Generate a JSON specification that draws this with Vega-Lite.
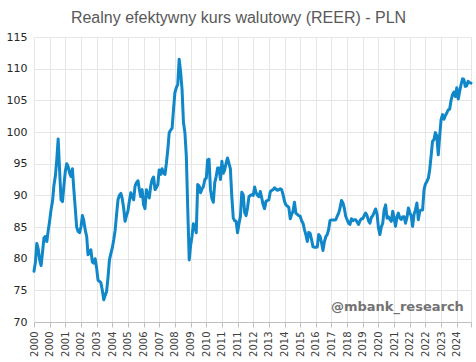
{
  "$schema": "https://vega.github.io/schema/vega-lite/v6.json",
  "width": 437,
  "height": 285,
  "autosize": {"type": "none"},
  "padding": {"left": 34, "top": 37, "right": 5, "bottom": 40},
  "background": "#ffffff",
  "config": {"view": {"stroke": null}},
  "title": {
    "text": "Realny efektywny kurs walutowy (REER) - PLN",
    "font": "Liberation Sans",
    "fontSize": 16,
    "fontWeight": "normal",
    "color": "#595959",
    "anchor": "middle",
    "dx": -14,
    "dy": 13,
    "baseline": "alphabetic",
    "offset": 5
  },
  "datasets": {
    "reer": [
      {"d":"2000-01","v":78.0},{"d":"2000-02","v":79.5},{"d":"2000-03","v":82.4},{"d":"2000-04","v":81.5},{"d":"2000-05","v":79.8},{"d":"2000-06","v":78.9},{"d":"2000-07","v":81.0},{"d":"2000-08","v":83.3},{"d":"2000-09","v":83.5},{"d":"2000-10","v":82.7},{"d":"2000-11","v":84.5},{"d":"2000-12","v":86.0},
      {"d":"2001-01","v":87.8},{"d":"2001-02","v":89.1},{"d":"2001-03","v":91.5},{"d":"2001-04","v":93.0},{"d":"2001-05","v":95.5},{"d":"2001-06","v":98.9},{"d":"2001-07","v":94.0},{"d":"2001-08","v":89.3},{"d":"2001-09","v":89.0},{"d":"2001-10","v":91.5},{"d":"2001-11","v":93.8},{"d":"2001-12","v":95.0},
      {"d":"2002-01","v":94.5},{"d":"2002-02","v":93.5},{"d":"2002-03","v":93.0},{"d":"2002-04","v":94.2},{"d":"2002-05","v":91.0},{"d":"2002-06","v":88.0},{"d":"2002-07","v":85.0},{"d":"2002-08","v":84.3},{"d":"2002-09","v":84.1},{"d":"2002-10","v":85.0},{"d":"2002-11","v":86.8},{"d":"2002-12","v":86.0},
      {"d":"2003-01","v":84.5},{"d":"2003-02","v":83.5},{"d":"2003-03","v":80.6},{"d":"2003-04","v":81.0},{"d":"2003-05","v":81.4},{"d":"2003-06","v":79.5},{"d":"2003-07","v":79.3},{"d":"2003-08","v":80.0},{"d":"2003-09","v":78.5},{"d":"2003-10","v":76.6},{"d":"2003-11","v":76.4},{"d":"2003-12","v":76.2},
      {"d":"2004-01","v":75.0},{"d":"2004-02","v":73.5},{"d":"2004-03","v":74.2},{"d":"2004-04","v":74.8},{"d":"2004-05","v":77.0},{"d":"2004-06","v":79.8},{"d":"2004-07","v":80.8},{"d":"2004-08","v":81.7},{"d":"2004-09","v":83.0},{"d":"2004-10","v":84.5},{"d":"2004-11","v":87.0},{"d":"2004-12","v":89.3},
      {"d":"2005-01","v":90.0},{"d":"2005-02","v":90.3},{"d":"2005-03","v":89.5},{"d":"2005-04","v":88.0},{"d":"2005-05","v":85.9},{"d":"2005-06","v":86.8},{"d":"2005-07","v":87.5},{"d":"2005-08","v":89.1},{"d":"2005-09","v":90.4},{"d":"2005-10","v":89.8},{"d":"2005-11","v":89.3},{"d":"2005-12","v":91.5},
      {"d":"2006-01","v":92.0},{"d":"2006-02","v":92.3},{"d":"2006-03","v":91.0},{"d":"2006-04","v":89.8},{"d":"2006-05","v":90.9},{"d":"2006-06","v":88.5},{"d":"2006-07","v":87.9},{"d":"2006-08","v":90.9},{"d":"2006-09","v":90.0},{"d":"2006-10","v":89.6},{"d":"2006-11","v":91.5},{"d":"2006-12","v":92.5},
      {"d":"2007-01","v":92.9},{"d":"2007-02","v":90.9},{"d":"2007-03","v":91.2},{"d":"2007-04","v":91.7},{"d":"2007-05","v":94.0},{"d":"2007-06","v":93.3},{"d":"2007-07","v":94.2},{"d":"2007-08","v":93.5},{"d":"2007-09","v":93.3},{"d":"2007-10","v":95.0},{"d":"2007-11","v":97.2},{"d":"2007-12","v":99.9},
      {"d":"2008-01","v":100.3},{"d":"2008-02","v":100.6},{"d":"2008-03","v":103.5},{"d":"2008-04","v":106.2},{"d":"2008-05","v":107.0},{"d":"2008-06","v":107.5},{"d":"2008-07","v":111.5},{"d":"2008-08","v":109.5},{"d":"2008-09","v":106.7},{"d":"2008-10","v":101.5},{"d":"2008-11","v":99.9},{"d":"2008-12","v":96.2},
      {"d":"2009-01","v":87.7},{"d":"2009-02","v":79.8},{"d":"2009-03","v":82.0},{"d":"2009-04","v":83.5},{"d":"2009-05","v":85.5},{"d":"2009-06","v":85.0},{"d":"2009-07","v":84.1},{"d":"2009-08","v":91.7},{"d":"2009-09","v":91.5},{"d":"2009-10","v":90.4},{"d":"2009-11","v":91.0},{"d":"2009-12","v":91.4},
      {"d":"2010-01","v":92.5},{"d":"2010-02","v":92.7},{"d":"2010-03","v":95.6},{"d":"2010-04","v":95.7},{"d":"2010-05","v":90.9},{"d":"2010-06","v":89.5},{"d":"2010-07","v":88.9},{"d":"2010-08","v":92.0},{"d":"2010-09","v":93.0},{"d":"2010-10","v":94.3},{"d":"2010-11","v":94.3},{"d":"2010-12","v":92.5},
      {"d":"2011-01","v":95.4},{"d":"2011-02","v":93.5},{"d":"2011-03","v":94.0},{"d":"2011-04","v":95.1},{"d":"2011-05","v":95.9},{"d":"2011-06","v":95.0},{"d":"2011-07","v":94.2},{"d":"2011-08","v":89.8},{"d":"2011-09","v":86.4},{"d":"2011-10","v":86.0},{"d":"2011-11","v":85.9},{"d":"2011-12","v":84.1},
      {"d":"2012-01","v":85.5},{"d":"2012-02","v":86.7},{"d":"2012-03","v":90.5},{"d":"2012-04","v":90.1},{"d":"2012-05","v":87.3},{"d":"2012-06","v":86.8},{"d":"2012-07","v":88.0},{"d":"2012-08","v":89.8},{"d":"2012-09","v":90.0},{"d":"2012-10","v":90.1},{"d":"2012-11","v":90.0},{"d":"2012-12","v":91.3},
      {"d":"2013-01","v":90.4},{"d":"2013-02","v":90.0},{"d":"2013-03","v":89.8},{"d":"2013-04","v":90.6},{"d":"2013-05","v":89.6},{"d":"2013-06","v":88.5},{"d":"2013-07","v":87.9},{"d":"2013-08","v":89.05},{"d":"2013-09","v":89.2},{"d":"2013-10","v":89.3},{"d":"2013-11","v":90.6},{"d":"2013-12","v":90.8},
      {"d":"2014-01","v":90.9},{"d":"2014-02","v":91.2},{"d":"2014-03","v":91.0},{"d":"2014-04","v":90.8},{"d":"2014-05","v":90.9},{"d":"2014-06","v":91.05},{"d":"2014-07","v":90.9},{"d":"2014-08","v":90.1},{"d":"2014-09","v":89.05},{"d":"2014-10","v":88.5},{"d":"2014-11","v":88.3},{"d":"2014-12","v":88.1},
      {"d":"2015-01","v":86.3},{"d":"2015-02","v":87.0},{"d":"2015-03","v":87.5},{"d":"2015-04","v":88.9},{"d":"2015-05","v":87.2},{"d":"2015-06","v":87.0},{"d":"2015-07","v":86.8},{"d":"2015-08","v":86.7},{"d":"2015-09","v":86.0},{"d":"2015-10","v":85.6},{"d":"2015-11","v":84.6},{"d":"2015-12","v":83.8},
      {"d":"2016-01","v":82.7},{"d":"2016-02","v":84.15},{"d":"2016-03","v":84.0},{"d":"2016-04","v":83.0},{"d":"2016-05","v":81.9},{"d":"2016-06","v":81.8},{"d":"2016-07","v":81.8},{"d":"2016-08","v":81.85},{"d":"2016-09","v":83.8},{"d":"2016-10","v":83.5},{"d":"2016-11","v":82.5},{"d":"2016-12","v":81.3},
      {"d":"2017-01","v":82.7},{"d":"2017-02","v":83.5},{"d":"2017-03","v":83.8},{"d":"2017-04","v":84.6},{"d":"2017-05","v":86.05},{"d":"2017-06","v":86.1},{"d":"2017-07","v":86.1},{"d":"2017-08","v":86.1},{"d":"2017-09","v":86.15},{"d":"2017-10","v":86.7},{"d":"2017-11","v":87.2},{"d":"2017-12","v":88.0},
      {"d":"2018-01","v":89.2},{"d":"2018-02","v":88.8},{"d":"2018-03","v":88.0},{"d":"2018-04","v":86.7},{"d":"2018-05","v":86.15},{"d":"2018-06","v":85.6},{"d":"2018-07","v":85.4},{"d":"2018-08","v":86.3},{"d":"2018-09","v":86.0},{"d":"2018-10","v":86.15},{"d":"2018-11","v":86.15},{"d":"2018-12","v":85.8},
      {"d":"2019-01","v":85.4},{"d":"2019-02","v":86.0},{"d":"2019-03","v":86.3},{"d":"2019-04","v":86.3},{"d":"2019-05","v":86.8},{"d":"2019-06","v":87.2},{"d":"2019-07","v":86.8},{"d":"2019-08","v":86.0},{"d":"2019-09","v":85.6},{"d":"2019-10","v":86.5},{"d":"2019-11","v":86.8},{"d":"2019-12","v":87.3},
      {"d":"2020-01","v":87.85},{"d":"2020-02","v":87.0},{"d":"2020-03","v":84.85},{"d":"2020-04","v":83.8},{"d":"2020-05","v":85.0},{"d":"2020-06","v":85.6},{"d":"2020-07","v":87.7},{"d":"2020-08","v":88.5},{"d":"2020-09","v":86.4},{"d":"2020-10","v":86.6},{"d":"2020-11","v":86.2},{"d":"2020-12","v":85.9},
      {"d":"2021-01","v":87.5},{"d":"2021-02","v":86.3},{"d":"2021-03","v":85.1},{"d":"2021-04","v":86.6},{"d":"2021-05","v":87.2},{"d":"2021-06","v":86.4},{"d":"2021-07","v":86.2},{"d":"2021-08","v":86.6},{"d":"2021-09","v":86.6},{"d":"2021-10","v":85.6},{"d":"2021-11","v":86.5},{"d":"2021-12","v":88.0},
      {"d":"2022-01","v":87.3},{"d":"2022-02","v":86.7},{"d":"2022-03","v":85.1},{"d":"2022-04","v":87.0},{"d":"2022-05","v":87.7},{"d":"2022-06","v":88.8},{"d":"2022-07","v":86.15},{"d":"2022-08","v":87.5},{"d":"2022-09","v":87.7},{"d":"2022-10","v":87.7},{"d":"2022-11","v":90.9},{"d":"2022-12","v":91.8},
      {"d":"2023-01","v":92.2},{"d":"2023-02","v":92.7},{"d":"2023-03","v":94.0},{"d":"2023-04","v":96.2},{"d":"2023-05","v":98.5},{"d":"2023-06","v":98.8},{"d":"2023-07","v":99.9},{"d":"2023-08","v":99.4},{"d":"2023-09","v":96.4},{"d":"2023-10","v":99.4},{"d":"2023-11","v":102.0},{"d":"2023-12","v":102.75},
      {"d":"2024-01","v":102.0},{"d":"2024-02","v":102.6},{"d":"2024-03","v":103.0},{"d":"2024-04","v":103.5},{"d":"2024-05","v":103.6},{"d":"2024-06","v":105.0},{"d":"2024-07","v":105.9},{"d":"2024-08","v":106.3},{"d":"2024-09","v":105.6},{"d":"2024-10","v":107.0},{"d":"2024-11","v":105.2},{"d":"2024-12","v":106.4},
      {"d":"2025-01","v":107.5},{"d":"2025-02","v":108.4},{"d":"2025-03","v":108.3},{"d":"2025-04","v":107.2},{"d":"2025-05","v":107.3},{"d":"2025-06","v":108.0},{"d":"2025-07","v":107.8},{"d":"2025-08","v":107.7}
    ],
    "note": [
      {"d":"2025-03","v":72.4,"label":"@mbank_research"}
    ]
  },
  "encoding": {
    "x": {
      "field": "d",
      "type": "temporal",
      "scale": {"type": "utc", "domain": [{"year": 2000, "month": 1, "date": 1, "utc": true}, {"year": 2025, "month": 8, "date": 1, "utc": true}]},
      "axis": {
        "title": null,
        "values": [
          {"year": 2000, "month": 1, "date": 1, "utc": true},
          {"year": 2000, "month": 12, "date": 1, "utc": true},
          {"year": 2001, "month": 11, "date": 1, "utc": true},
          {"year": 2002, "month": 10, "date": 1, "utc": true},
          {"year": 2003, "month": 9, "date": 1, "utc": true},
          {"year": 2004, "month": 8, "date": 1, "utc": true},
          {"year": 2005, "month": 7, "date": 1, "utc": true},
          {"year": 2006, "month": 6, "date": 1, "utc": true},
          {"year": 2007, "month": 5, "date": 1, "utc": true},
          {"year": 2008, "month": 4, "date": 1, "utc": true},
          {"year": 2009, "month": 3, "date": 1, "utc": true},
          {"year": 2010, "month": 2, "date": 1, "utc": true},
          {"year": 2011, "month": 1, "date": 1, "utc": true},
          {"year": 2011, "month": 12, "date": 1, "utc": true},
          {"year": 2012, "month": 11, "date": 1, "utc": true},
          {"year": 2013, "month": 10, "date": 1, "utc": true},
          {"year": 2014, "month": 9, "date": 1, "utc": true},
          {"year": 2015, "month": 8, "date": 1, "utc": true},
          {"year": 2016, "month": 7, "date": 1, "utc": true},
          {"year": 2017, "month": 6, "date": 1, "utc": true},
          {"year": 2018, "month": 5, "date": 1, "utc": true},
          {"year": 2019, "month": 4, "date": 1, "utc": true},
          {"year": 2020, "month": 3, "date": 1, "utc": true},
          {"year": 2021, "month": 2, "date": 1, "utc": true},
          {"year": 2022, "month": 1, "date": 1, "utc": true},
          {"year": 2022, "month": 12, "date": 1, "utc": true},
          {"year": 2023, "month": 11, "date": 1, "utc": true},
          {"year": 2024, "month": 10, "date": 1, "utc": true},
          {"year": 2025, "month": 8, "date": 1, "utc": true}
        ],
        "labelExpr": "utcyear(datum.value) >= 2025 ? '' : utcFormat(datum.value, '%Y')",
        "labelAngle": -90,
        "labelAlign": "right",
        "labelBaseline": "middle",
        "labelFont": "DejaVu Sans",
        "labelFontSize": 10,
        "labelColor": "#404040",
        "labelPadding": 4,
        "labelOverlap": false,
        "labelFlush": false,
        "grid": true,
        "gridColor": "#e6e6e6",
        "gridWidth": 1,
        "domain": true,
        "domainColor": "#bfbfbf",
        "domainWidth": 1,
        "ticks": true,
        "tickColor": "#bfbfbf",
        "tickSize": 5
      }
    },
    "y": {
      "field": "v",
      "type": "quantitative",
      "scale": {"domain": [70, 115], "nice": false, "zero": false},
      "axis": {
        "title": null,
        "values": [70, 75, 80, 85, 90, 95, 100, 105, 110, 115],
        "labelFont": "DejaVu Sans",
        "labelFontSize": 11,
        "labelColor": "#262626",
        "labelPadding": 7,
        "grid": true,
        "gridColor": "#e6e6e6",
        "gridWidth": 1,
        "domain": false,
        "ticks": false
      }
    }
  },
  "layer": [
    {
      "data": {"name": "reer"},
      "mark": {"type": "line", "color": "#0F87C8", "strokeWidth": 3, "strokeJoin": "round", "strokeCap": "round"}
    },
    {
      "data": {"name": "note"},
      "mark": {"type": "text", "align": "right", "baseline": "middle", "font": "DejaVu Sans", "fontSize": 13, "fontWeight": "bold", "color": "#737373"},
      "encoding": {
        "text": {"field": "label"}
      }
    }
  ]
}
